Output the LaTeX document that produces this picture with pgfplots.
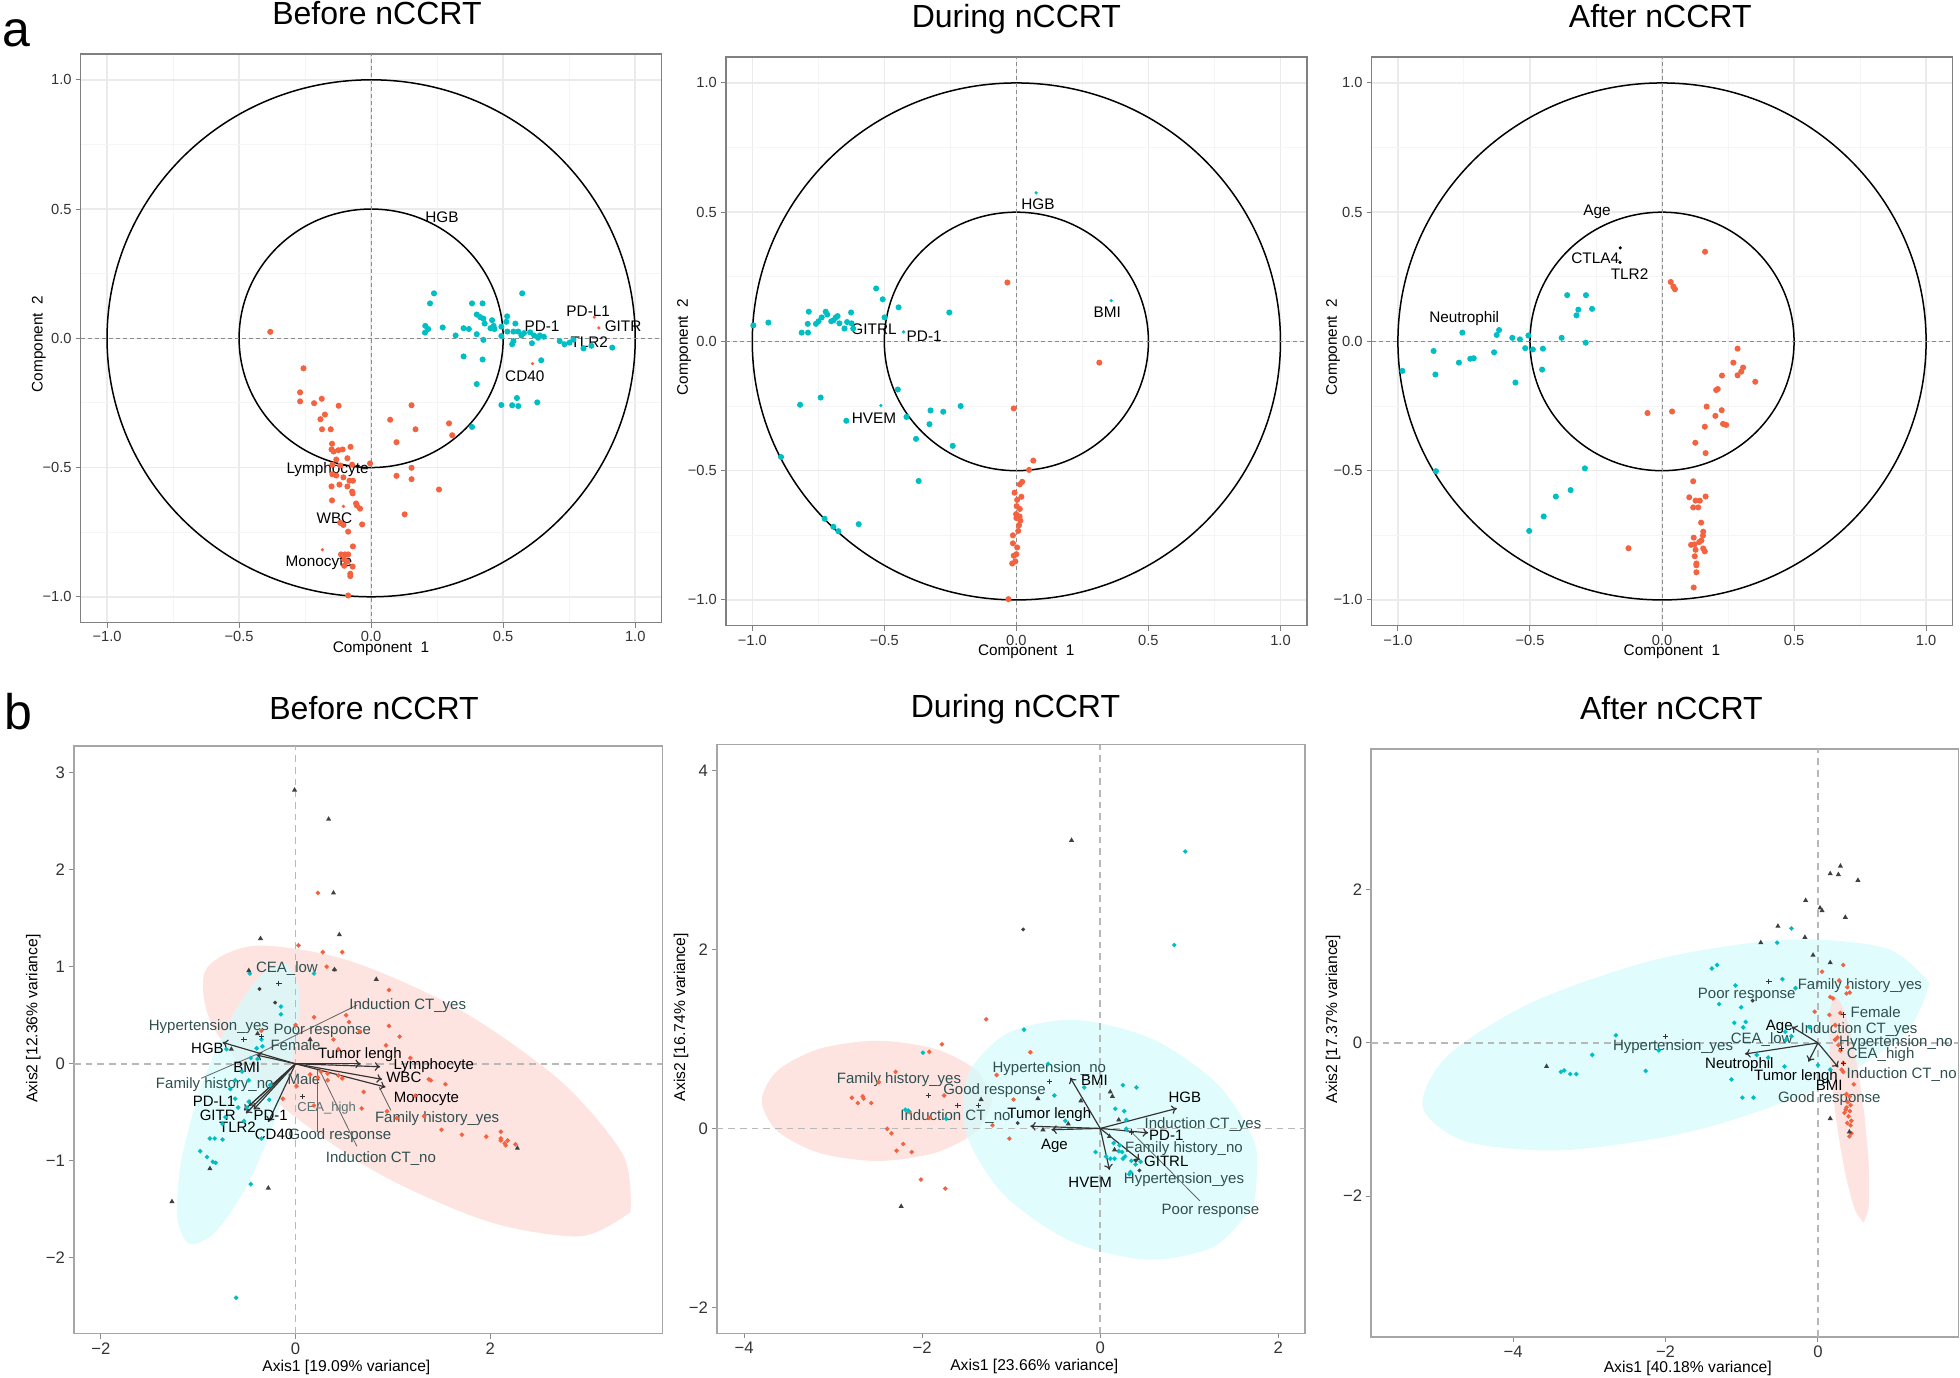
\documentclass[border=0pt]{standalone}
\usepackage{fontspec}
\setmainfont{Liberation Sans}
\usepackage{pgfplots}
\pgfplotsset{compat=1.18}
\usetikzlibrary{arrows.meta}
\definecolor{cy}{HTML}{00BFC4}
\definecolor{rd}{HTML}{F4623F}
\definecolor{rdf}{HTML}{FEDDDA}
\definecolor{cyf}{HTML}{D8FBFB}
\definecolor{slate}{HTML}{2F4F4F}
\definecolor{arr}{HTML}{333333}
\newcommand{\lfa}{\fontsize{4.6}{5}\selectfont}
\newcommand{\lfb}{\fontsize{4.7}{5.5}\selectfont}
\tikzset{
  tl/.style={font=\fontsize{4.6}{5}\selectfont, inner sep=0pt, text height=3.3pt, text depth=0pt, anchor=center},
  vl/.style={font=\fontsize{4.5}{5}\selectfont, text=black, inner sep=0pt, text height=3.2pt, text depth=0pt, anchor=center},
  cl/.style={vl, text=slate},
}
\pgfplotsset{
  base/.style={scale only axis, clip=true, axis on top=false, tick pos=left,
    tick align=outside, major tick length=1.5pt, minor tick length=0pt,
    tick label style={inner sep=1pt, text=black!80},
    every axis title/.style={anchor=base, inner sep=0pt, font=\fontsize{9.6}{11}\selectfont},
  },
  toprow/.style={base, width=174.3pt, height=170.6pt,
    xmin=-1.1, xmax=1.1, ymin=-1.1, ymax=1.1,
    xtick={-1,-0.5,0,0.5,1}, ytick={-1,-0.5,0,0.5,1},
    xticklabels={−1.0,−0.5,0.0,0.5,1.0}, yticklabels={−1.0,−0.5,0.0,0.5,1.0},
    minor xtick={-0.75,-0.25,0.25,0.75}, minor ytick={-0.75,-0.25,0.25,0.75},
    grid=both, major grid style={draw=black!8, line width=0.45pt},
    minor grid style={draw=black!4, line width=0.3pt},
    axis line style={draw=black!50, line width=0.4pt},
    tick style={draw=black!50, line width=0.3pt},
    tick label style={font=\fontsize{4.4}{5}\selectfont},
    xlabel={Component\ \ 1}, ylabel={Component\ \ 2},
    every axis x label/.style={at={(axis description cs:0.517,-0.0457)}, anchor=center, inner sep=0pt, font=\lfa},
    every axis y label/.style={at={(axis description cs:-0.072,0.49)}, anchor=center, inner sep=0pt, rotate=90, font=\lfa},
  },
  botrow/.style={base,
    axis line style={draw=black!35, line width=0.45pt},
    tick style={draw=black!45, line width=0.3pt},
    tick label style={font=\fontsize{5}{6}\selectfont},
  },
  zl/.style={draw=black!45, dash pattern=on 1.2pt off 0.9pt, line width=0.3pt},
  zb/.style={draw=black!28, dash pattern=on 2pt off 1.5pt, line width=0.55pt},
  pc/.style={only marks, mark=*, mark size=0.7pt, color=cy},
  pr/.style={only marks, mark=*, mark size=0.7pt, color=rd},
  bc/.style={only marks, mark=*, mark size=0.45pt, color=cy},
  br/.style={only marks, mark=*, mark size=0.45pt, color=rd},
  btri/.style={only marks, mark=triangle*, mark size=0.5pt, color=black!75},
  bcross/.style={only marks, mark=+, mark size=0.8pt, color=black!80, mark options={line width=0.3pt}},
  bdot/.style={only marks, mark=*, mark size=0.35pt, color=black!75},
  tiny/.style={only marks, mark=*, mark size=0.25pt},
  ar/.style={draw=arr, line width=0.35pt, -{To[length=1.6pt,width=2.6pt]}},
  cn/.style={draw=black!60, line width=0.25pt},
  efr/.style={draw=none, fill=rdf, fill opacity=0.8, smooth},
  efc/.style={draw=none, fill=cyf, fill opacity=0.8, smooth},
}
\begin{document}
\begin{tikzpicture}
\node[anchor=base west, inner sep=0pt, font=\fontsize{15}{15}\selectfont] at (0.5pt,399.3pt) {a};
\node[anchor=base west, inner sep=0pt, font=\fontsize{15}{15}\selectfont] at (1pt,194.55pt) {b};

% ================= a1 =================
\begin{axis}[toprow, at={(24.19pt,226.46pt)}, anchor=south west,
  title={Before nCCRT}, title style={at={(axis description cs:0.51,1.0513)}}]
\draw[black, line width=0.45pt] (axis cs:0,0) ellipse [x radius=1, y radius=1];
\draw[black, line width=0.45pt] (axis cs:0,0) ellipse [x radius=0.5, y radius=0.5];
\addplot[zl] coordinates {(-1.1,0) (1.1,0)};
\addplot[zl] coordinates {(0,-1.1) (0,1.1)};
\addplot[pc] coordinates {(0.238,0.174)(0.223,0.135)(0.205,0.048)(0.216,0.036)(0.204,0.022)(0.271,0.042)(0.320,0.011)(0.350,0.039)(0.370,0.036)(0.382,0.135)(0.422,0.135)(0.400,0.092)(0.413,0.082)(0.425,0.076)(0.430,0.057)(0.400,0.016)(0.425,-0.006)(0.458,0.070)(0.464,0.048)(0.452,0.039)(0.467,0.036)(0.493,0.045)(0.515,0.085)(0.512,0.064)(0.493,0.009)(0.516,0.026)(0.539,0.026)(0.546,0.057)(0.557,0.026)(0.572,0.174)(0.569,0.011)(0.579,0.020)(0.602,0.023)(0.617,0.011)(0.632,0.002)(0.639,0.011)(0.654,0.006)(0.539,-0.011)(0.534,-0.023)(0.609,-0.019)(0.714,-0.011)(0.732,-0.023)(0.751,-0.017)(0.766,-0.005)(0.804,-0.039)(0.834,-0.029)(0.913,-0.036)(0.350,-0.070)(0.422,-0.082)(0.644,-0.085)(0.400,-0.177)(0.493,-0.258)(0.534,-0.259)(0.557,-0.262)(0.552,-0.231)(0.629,-0.248)(0.382,-0.343)};
\addplot[pr] coordinates {(-0.382,0.025)(-0.256,-0.116)(-0.269,-0.209)(-0.269,-0.244)(-0.216,-0.251)(-0.187,-0.234)(-0.123,-0.261)(-0.175,-0.295)(-0.192,-0.313)(-0.186,-0.352)(-0.153,-0.352)(-0.148,-0.408)(-0.150,-0.430)(-0.142,-0.438)(-0.124,-0.433)(-0.108,-0.430)(-0.078,-0.420)(-0.132,-0.469)(-0.090,-0.464)(-0.147,-0.489)(-0.117,-0.492)(-0.072,-0.489)(-0.004,-0.484)(-0.147,-0.526)(-0.132,-0.531)(-0.082,-0.551)(-0.069,-0.551)(-0.105,-0.538)(-0.150,-0.573)(-0.120,-0.566)(-0.090,-0.573)(-0.072,-0.593)(-0.070,-0.600)(-0.148,-0.627)(-0.057,-0.639)(-0.054,-0.647)(-0.042,-0.659)(-0.117,-0.714)(-0.105,-0.722)(-0.034,-0.720)(-0.087,-0.748)(-0.069,-0.805)(-0.114,-0.836)(-0.099,-0.836)(-0.087,-0.836)(-0.102,-0.856)(-0.090,-0.864)(-0.070,-0.883)(-0.102,-0.880)(-0.079,-0.911)(-0.079,-0.920)(-0.087,-0.995)(0.072,-0.315)(0.096,-0.402)(0.153,-0.259)(0.168,-0.352)(0.295,-0.329)(0.307,-0.375)(0.153,-0.501)(0.096,-0.532)(0.153,-0.545)(0.257,-0.585)(0.127,-0.681)};
\addplot[tiny, color=rd] coordinates {(0.845,0.082)(0.862,0.040)(0.611,-0.098)(-0.105,-0.650)(-0.185,-0.818)};
\node[tl] at (axis cs:0.268,0.470) {HGB};
\node[tl] at (axis cs:0.647,0.047) {PD-1};
\node[tl] at (axis cs:0.822,0.106) {PD-L1};
\node[tl] at (axis cs:0.954,0.047) {GITR};
\node[tl] at (axis cs:0.826,-0.016) {TLR2};
\node[tl] at (axis cs:0.582,-0.147) {CD40};
\node[tl] at (axis cs:-0.165,-0.501) {Lymphocyte};
\node[tl] at (axis cs:-0.139,-0.694) {WBC};
\node[tl] at (axis cs:-0.198,-0.861) {Monocyte};
\end{axis}

% ================= a2 =================
\begin{axis}[toprow, at={(217.76pt,225.52pt)}, anchor=south west,
  title={During nCCRT}, title style={at={(axis description cs:0.5,1.0513)}}]
\draw[black, line width=0.45pt] (axis cs:0,0) ellipse [x radius=1, y radius=1];
\draw[black, line width=0.45pt] (axis cs:0,0) ellipse [x radius=0.5, y radius=0.5];
\addplot[zl] coordinates {(-1.1,0) (1.1,0)};
\addplot[zl] coordinates {(0,-1.1) (0,1.1)};
\addplot[pc] coordinates {(-0.996,0.062)(-0.939,0.073)(-0.813,0.034)(-0.789,0.034)(-0.790,0.068)(-0.786,0.115)(-0.759,0.068)(-0.749,0.078)(-0.737,0.093)(-0.722,0.115)(-0.716,0.104)(-0.701,0.078)(-0.692,0.082)(-0.684,0.093)(-0.677,0.098)(-0.670,0.070)(-0.651,0.050)(-0.641,0.075)(-0.626,0.112)(-0.624,0.070)(-0.618,0.050)(-0.531,0.205)(-0.506,0.163)(-0.499,0.093)(-0.446,0.132)(-0.254,0.112)(-0.449,-0.186)(-0.325,-0.267)(-0.277,-0.272)(-0.211,-0.250)(-0.416,-0.292)(-0.329,-0.320)(-0.380,-0.377)(-0.241,-0.404)(-0.741,-0.217)(-0.819,-0.245)(-0.644,-0.307)(-0.891,-0.447)(-0.370,-0.540)(-0.726,-0.686)(-0.693,-0.717)(-0.674,-0.734)(-0.597,-0.707)};
\addplot[pr] coordinates {(-0.034,0.228)(0.314,-0.082)(-0.010,-0.259)(0.064,-0.461)(0.048,-0.497)(0.022,-0.543)(0.013,-0.553)(-0.007,-0.585)(0.019,-0.601)(0.003,-0.613)(0.001,-0.637)(0.013,-0.648)(-0.001,-0.668)(0.012,-0.677)(0.000,-0.683)(0.015,-0.693)(0.010,-0.711)(0.007,-0.733)(-0.013,-0.750)(-0.013,-0.781)(0.003,-0.797)(-0.010,-0.829)(0.000,-0.823)(-0.004,-0.851)(-0.016,-0.859)(-0.030,-0.997)};
\addplot[tiny, color=cy] coordinates {(0.075,0.575)(0.359,0.158)(-0.513,-0.248)(-0.427,0.037)};
\node[tl] at (axis cs:0.082,0.531) {HGB};
\node[tl] at (axis cs:0.344,0.112) {BMI};
\node[tl] at (axis cs:-0.539,0.050) {GITRL};
\node[tl] at (axis cs:-0.349,0.020) {PD-1};
\node[tl] at (axis cs:-0.539,-0.295) {HVEM};
\end{axis}

% ================= a3 =================
\begin{axis}[toprow, at={(411.45pt,225.52pt)}, anchor=south west,
  title={After nCCRT}, title style={at={(axis description cs:0.497,1.0513)}},
  every axis y label/.style={at={(axis description cs:-0.066,0.49)}, anchor=center, inner sep=0pt, rotate=90, font=\lfa}]
\draw[black, line width=0.45pt] (axis cs:0,0) ellipse [x radius=1, y radius=1];
\draw[black, line width=0.45pt] (axis cs:0,0) ellipse [x radius=0.5, y radius=0.5];
\addplot[zl] coordinates {(-1.1,0) (1.1,0)};
\addplot[zl] coordinates {(0,-1.1) (0,1.1)};
\addplot[pc] coordinates {(-0.983,-0.114)(-0.865,-0.037)(-0.858,-0.128)(-0.769,-0.082)(-0.756,0.034)(-0.726,-0.067)(-0.713,-0.065)(-0.636,-0.042)(-0.626,0.025)(-0.617,0.044)(-0.567,0.014)(-0.538,0.008)(-0.518,-0.026)(-0.506,0.023)(-0.489,-0.031)(-0.451,-0.028)(-0.454,-0.109)(-0.555,-0.159)(-0.380,0.014)(-0.289,-0.005)(-0.359,0.179)(-0.288,0.179)(-0.317,0.123)(-0.324,0.101)(-0.265,0.126)(-0.856,-0.502)(-0.292,-0.491)(-0.346,-0.575)(-0.402,-0.600)(-0.448,-0.677)(-0.503,-0.733)};
\addplot[pr] coordinates {(0.163,0.347)(0.033,0.230)(0.043,0.212)(0.049,0.202)(0.286,-0.028)(0.270,-0.082)(0.307,-0.101)(0.300,-0.117)(0.286,-0.131)(0.353,-0.156)(0.227,-0.132)(0.211,-0.184)(0.205,-0.188)(0.169,-0.252)(0.226,-0.266)(0.202,-0.288)(0.231,-0.319)(0.243,-0.323)(0.162,-0.330)(-0.055,-0.277)(0.038,-0.271)(0.126,-0.392)(0.165,-0.432)(0.118,-0.541)(0.103,-0.603)(0.127,-0.616)(0.143,-0.616)(0.165,-0.600)(0.118,-0.642)(0.137,-0.642)(0.148,-0.701)(0.156,-0.736)(0.155,-0.751)(0.120,-0.759)(0.149,-0.770)(0.141,-0.776)(0.110,-0.787)(0.123,-0.785)(0.156,-0.801)(0.127,-0.806)(0.162,-0.812)(0.124,-0.831)(0.130,-0.859)(0.130,-0.866)(0.130,-0.893)(0.120,-0.952)(-0.127,-0.800)};
\addplot[tiny, color=black] coordinates {(-0.158,0.362)(-0.159,0.306)};
\node[tl] at (axis cs:-0.246,0.507) {Age};
\node[tl] at (axis cs:-0.253,0.322) {CTLA4};
\node[tl] at (axis cs:-0.123,0.261) {TLR2};
\node[tl] at (axis cs:-0.749,0.093) {Neutrophil};
\end{axis}

% ================= b1 =================
\begin{axis}[botrow, at={(22.16pt,13.16pt)}, anchor=south west, width=176.55pt, height=176.33pt,
  xmin=-2.278, xmax=3.77, ymin=-2.78, ymax=3.275,
  xtick={-2,0,2}, xticklabels={−2,0,2}, ytick={-2,-1,0,1,2,3}, yticklabels={−2,−1,0,1,2,3},
  xlabel={Axis1 [19.09\% variance]}, ylabel={Axis2 [12.36\% variance]},
  every axis x label/.style={at={(axis description cs:0.463,-0.0567)}, anchor=center, inner sep=0pt, font=\lfb},
  every axis y label/.style={at={(axis description cs:-0.0688,0.536)}, anchor=center, inner sep=0pt, rotate=90, font=\lfb},
  title={Before nCCRT}, title style={at={(axis description cs:0.51,1.0454)}}]
\addplot[efr] coordinates {(3.443,-1.526)(3.368,-0.942)(2.729,-0.182)(1.695,0.553)(0.545,1.064)(-0.412,1.216)(-0.923,0.966)(-0.848,0.382)(-0.209,-0.378)(0.825,-1.113)(1.975,-1.624)(2.932,-1.776)(3.443,-1.526)};
\addplot[efc] coordinates {(-0.093,1.035)(-0.355,0.914)(-0.678,0.439)(-0.979,-0.264)(-1.176,-1.007)(-1.215,-1.588)(-1.087,-1.855)(-0.825,-1.734)(-0.502,-1.259)(-0.201,-0.556)(-0.004,0.187)(0.035,0.768)(-0.093,1.035)};
\addplot[zb] coordinates {(-2.278,0) (3.77,0)};
\addplot[zb] coordinates {(0,-2.78) (0,3.275)};
\addplot[br] coordinates {(0.23,1.76)(0.03,1.22)(0.28,1.15)(0.48,1.15)(0.32,1.00)(0.40,0.97)(0.96,0.76)(0.19,0.48)(0.52,0.50)(0.55,0.43)(0.96,0.39)(0.66,0.33)(1.07,0.28)(0.00,0.40)(-0.35,0.34)(0.39,0.25)(0.93,0.19)(0.44,0.15)(1.18,0.06)(0.15,-0.11)(0.26,-0.08)(0.33,-0.10)(0.44,-0.12)(0.23,-0.14)(1.37,-0.16)(1.39,-0.17)(1.23,-0.33)(1.54,-0.21)(0.48,-0.15)(0.33,-0.17)(0.70,-0.29)(0.01,-0.23)(-0.13,-0.36)(0.19,-0.43)(0.68,-0.46)(0.94,-0.49)(1.04,-0.56)(1.32,-0.54)(1.50,-0.68)(1.71,-0.73)(1.96,-0.75)(2.11,-0.70)(2.11,-0.79)(2.15,-0.82)(2.18,-0.79)(2.16,-0.84)(2.26,-0.83)(2.11,-0.77)};
\addplot[bc] coordinates {(-0.47,0.93)(0.19,0.93)(-0.15,0.59)(-0.15,0.51)(-0.35,0.25)(-0.40,0.16)(-0.34,0.18)(-0.71,0.15)(-0.46,0.06)(-0.39,0.05)(-0.55,-0.08)(-0.48,-0.17)(-0.62,-0.17)(-0.67,-0.26)(-0.26,-0.22)(-0.62,-0.36)(-0.27,-0.37)(-0.59,-0.45)(-0.50,-0.45)(-0.72,-0.55)(-0.53,-0.59)(-0.75,-0.62)(-0.83,-0.77)(-0.75,-0.78)(-0.88,-0.77)(-0.35,-0.77)(-0.98,-0.90)(-0.91,-0.96)(-0.85,-1.01)(-0.82,-1.02)(-0.46,-1.24)(-0.61,-2.41)(-0.48,-0.39)};
\addplot[btri] coordinates {(-0.01,2.82)(0.34,2.52)(0.39,1.76)(-0.36,1.29)(0.45,1.33)(-0.48,0.96)(0.83,0.87)(0.40,0.97)(-1.27,-1.42)(-0.28,-1.28)(-0.88,-1.08)(2.28,-0.87)(-0.66,0.15)(-0.39,0.31)(0.15,0.25)};
\addplot[bcross] coordinates {(-0.17,0.83)(-0.53,0.25)(0.07,-0.34)(-0.35,0.28)};
\addplot[bdot] coordinates {(-0.37,0.77)(-0.21,0.63)};
\addplot[cn] coordinates {(-0.375,0.108) (0.635,0.606)};
\addplot[cn] coordinates {(-0.375,0.108) (-0.97,-0.15)};
\addplot[cn] coordinates {(0.224,-0.06) (0.224,-0.70)};
\addplot[cn] coordinates {(0.24,-0.05) (0.63,-0.85)};
\addplot[cn] coordinates {(0.86,-0.24) (0.98,-0.48)};
\addplot[ar] coordinates {(0,0) (-0.75,0.22)};
\addplot[ar] coordinates {(0,0) (-0.40,0.09)};
\addplot[ar] coordinates {(0,0) (0.67,0.0)};
\addplot[ar] coordinates {(0,0) (0.87,-0.03)};
\addplot[ar] coordinates {(0,0) (0.89,-0.16)};
\addplot[ar] coordinates {(0,0) (0.925,-0.24)};
\addplot[ar] coordinates {(0,0) (-0.48,-0.435)};
\addplot[ar] coordinates {(0,0) (-0.53,-0.48)};
\addplot[ar] coordinates {(0,0) (-0.51,-0.51)};
\addplot[ar] coordinates {(0,0) (-0.43,-0.47)};
\addplot[ar] coordinates {(0,0) (-0.28,-0.60)};
\node[cl] at (axis cs:-0.088,0.995) {CEA\_low};
\node[cl] at (axis cs:1.153,0.619) {Induction CT\_yes};
\node[cl] at (axis cs:-0.89,0.40) {Hypertension\_yes};
\node[cl] at (axis cs:0.275,0.355) {Poor response};
\node[cl] at (axis cs:0.0,0.193) {Female};
\node[cl] at (axis cs:-0.83,-0.20) {Family history\_no};
\node[cl] at (axis cs:0.087,-0.16) {Male};
\node[cl, font=\fontsize{3.9}{4.5}\selectfont, text=slate!80, text height=2.8pt] at (axis cs:0.32,-0.44) {CEA\_high};
\node[cl] at (axis cs:1.455,-0.545) {Family history\_yes};
\node[cl] at (axis cs:0.456,-0.727) {Good response};
\node[cl] at (axis cs:0.877,-0.963) {Induction CT\_no};
\node[vl] at (axis cs:-0.905,0.16) {HGB};
\node[vl] at (axis cs:-0.502,-0.03) {BMI};
\node[vl] at (axis cs:0.661,0.108) {Tumor lengh};
\node[vl] at (axis cs:1.42,0.0) {Lymphocyte};
\node[vl] at (axis cs:1.113,-0.14) {WBC};
\node[vl] at (axis cs:1.346,-0.34) {Monocyte};
\node[vl] at (axis cs:-0.837,-0.39) {PD-L1};
\node[vl] at (axis cs:-0.80,-0.53) {GITR};
\node[vl] at (axis cs:-0.255,-0.53) {PD-1};
\node[vl] at (axis cs:-0.597,-0.655) {TLR2};
\node[vl] at (axis cs:-0.221,-0.72) {CD40};
\end{axis}

% ================= b2 =================
\begin{axis}[botrow, at={(215.03pt,13.28pt)}, anchor=south west, width=176.4pt, height=176.58pt,
  xmin=-4.307, xmax=2.298, ymin=-2.289, ymax=4.289,
  xtick={-4,-2,0,2}, xticklabels={−4,−2,0,2}, ytick={-2,0,2,4}, yticklabels={−2,0,2,4},
  xlabel={Axis1 [23.66\% variance]}, ylabel={Axis2 [16.74\% variance]},
  every axis x label/.style={at={(axis description cs:0.540,-0.0567)}, anchor=center, inner sep=0pt, font=\lfb},
  every axis y label/.style={at={(axis description cs:-0.0608,0.537)}, anchor=center, inner sep=0pt, rotate=90, font=\lfb},
  title={During nCCRT}, title style={at={(axis description cs:0.508,1.0453)}}]
\addplot[efr] coordinates {(-1.210,0.308)(-1.384,0.644)(-1.858,0.890)(-2.506,0.980)(-3.154,0.890)(-3.628,0.644)(-3.802,0.308)(-3.628,-0.028)(-3.154,-0.274)(-2.506,-0.364)(-1.858,-0.274)(-1.384,-0.028)(-1.210,0.308)};
\addplot[efc] coordinates {(1.728,-0.850)(1.743,-0.188)(1.322,0.489)(0.580,1.002)(-0.286,1.213)(-1.041,1.064)(-1.486,0.596)(-1.501,-0.066)(-1.080,-0.743)(-0.338,-1.256)(0.528,-1.467)(1.283,-1.318)(1.728,-0.850)};
\addplot[zb] coordinates {(-4.307,0) (2.298,0)};
\addplot[zb] coordinates {(0,-2.289) (0,4.289)};
\addplot[br] coordinates {(-1.281,1.219)(-1.778,0.940)(-1.920,0.856)(-0.785,0.851)(-2.298,0.632)(-2.487,0.517)(-2.790,0.343)(-2.667,0.358)(-2.657,0.333)(-2.723,0.284)(-2.572,0.284)(-1.754,0.368)(-0.974,0.323)(-2.142,0.184)(-1.163,0.597)(-1.920,0.119)(-1.210,0.035)(-2.392,-0.005)(-2.345,-0.055)(-1.021,-0.114)(-2.213,-0.174)(-2.288,-0.249)(-2.118,-0.264)(-2.014,-0.572)(-1.740,-0.672)};
\addplot[bc] coordinates {(0.955,3.095)(0.832,2.050)(-0.856,1.104)(-1.991,0.846)(-0.586,0.721)(-0.515,0.368)(0.255,0.483)(0.407,0.458)(-0.180,0.458)(0.170,0.219)(0.270,0.194)(0.293,0.095)(-0.392,0.085)(-2.189,0.209)(-2.156,0.199)(-1.730,0.109)(0.293,-0.005)(-0.052,-0.264)(0.066,-0.313)(0.113,-0.338)(0.161,-0.338)(0.217,-0.189)(0.246,-0.264)(0.255,-0.338)(0.279,-0.313)(0.350,-0.363)(0.397,-0.403)(0.454,-0.373)(0.340,-0.488)(0.326,-0.512)(0.208,-0.254)(0.151,-0.164)};
\addplot[btri] coordinates {(-0.322,3.219)(-2.236,-0.871)(-1.338,0.323)(-0.700,0.333)(-0.217,0.308)(0.113,0.408)(0.137,0.358)(0.104,-0.090)(0.161,-0.239)(-0.359,0.050)(-0.643,-0.015)(0.208,0.095)};
\addplot[bdot] coordinates {(-0.865,2.224)(-0.927,0.060)(0.40,-0.36)(0.44,-0.47)};
\addplot[bcross] coordinates {(-1.929,0.368)(-1.598,0.259)(-1.366,0.259)(-0.572,0.522)(0.350,-0.04)};
\addplot[cn] coordinates {(0.35,-0.04) (1.12,-0.81)};
\addplot[ar] coordinates {(0,0) (-0.336,0.567)};
\addplot[ar] coordinates {(0,0) (0.861,0.224)};
\addplot[ar] coordinates {(0,0) (0.539,-0.050)};
\addplot[ar] coordinates {(0,0) (0.444,-0.353)};
\addplot[ar] coordinates {(0,0) (0.104,-0.463)};
\addplot[ar] coordinates {(0,0) (-0.785,0.025)};
\addplot[ar] coordinates {(0,0) (-0.548,-0.015)};
\node[cl] at (axis cs:-2.260,0.557) {Family history\_yes};
\node[cl] at (axis cs:-1.187,0.443) {Good response};
\node[cl] at (axis cs:-1.626,0.144) {Induction CT\_no};
\node[cl] at (axis cs:-0.572,0.682) {Hypertension\_no};
\node[cl] at (axis cs:1.154,0.060) {Induction CT\_yes};
\node[cl] at (axis cs:0.941,-0.204) {Family history\_no};
\node[cl] at (axis cs:0.941,-0.552) {Hypertension\_yes};
\node[cl] at (axis cs:1.239,-0.900) {Poor response};
\node[vl] at (axis cs:-0.066,0.542) {BMI};
\node[vl] at (axis cs:0.950,0.348) {HGB};
\node[vl] at (axis cs:0.742,-0.075) {PD-1};
\node[vl] at (axis cs:0.742,-0.363) {GITRL};
\node[vl] at (axis cs:-0.113,-0.602) {HVEM};
\node[vl] at (axis cs:-0.572,0.174) {Tumor lengh};
\node[vl] at (axis cs:-0.515,-0.174) {Age};
\end{axis}

% ================= b3 =================
\begin{axis}[botrow, at={(411.3pt,12.23pt)}, anchor=south west, width=176.3pt, height=176.32pt,
  xmin=-5.864, xmax=1.847, ymin=-3.837, ymax=3.837,
  xtick={-4,-2,0}, xticklabels={−4,−2,0}, ytick={-2,0,2}, yticklabels={−2,0,2},
  xlabel={Axis1 [40.18\% variance]}, ylabel={Axis2 [17.37\% variance]},
  every axis x label/.style={at={(axis description cs:0.539,-0.0545)}, anchor=center, inner sep=0pt, font=\lfb},
  every axis y label/.style={at={(axis description cs:-0.0646,0.5405)}, anchor=center, inner sep=0pt, rotate=90, font=\lfb},
  title={After nCCRT}, title style={at={(axis description cs:0.511,1.051)}}]
\addplot[efc] coordinates {(1.464,0.780)(0.903,1.233)(-0.397,1.349)(-2.091,1.096)(-3.723,0.543)(-4.855,-0.163)(-5.186,-0.832)(-4.625,-1.285)(-3.325,-1.401)(-1.631,-1.148)(0.001,-0.595)(1.133,0.111)(1.464,0.780)};
\addplot[efr] coordinates {(0.598,-2.346)(0.666,-2.135)(0.666,-1.585)(0.598,-0.844)(0.480,-0.111)(0.344,0.419)(0.226,0.602)(0.158,0.391)(0.158,-0.159)(0.226,-0.900)(0.344,-1.633)(0.480,-2.163)(0.598,-2.346)};
\addplot[zb] coordinates {(-5.864,0) (1.847,0)};
\addplot[zb] coordinates {(0,-3.837) (0,3.837)};
\addplot[bc] coordinates {(-0.348,1.494)(-0.535,1.308)(-1.392,0.971)(-1.323,1.017)(-0.466,0.831)(-0.295,0.715)(-1.082,0.750)(-1.296,0.506)(-1.007,0.465)(-1.098,0.262)(-0.948,0.273)(-0.980,0.203)(-0.428,0.145)(-0.348,0.087)(-0.418,0.041)(-2.651,0.099)(-2.961,-0.157)(-2.088,-0.099)(-0.803,-0.157)(-0.653,-0.192)(-0.439,-0.308)(0,-0.291)(-2.260,-0.366)(-1.135,-0.477)(-0.991,-0.715)(-0.846,-0.715)(0.161,-0.349)(-3.373,-0.378)(-3.330,-0.360)(-3.250,-0.407)(-3.170,-0.407)(-0.107,0.203)};
\addplot[br] coordinates {(0.332,1.017)(0.054,0.930)(0.278,0.814)(0.386,0.727)(0.418,0.657)(0.375,0.645)(0.161,0.599)(0.198,0.581)(-0.043,0.407)(0.150,0.366)(0.295,0.390)(0.225,0.233)(0.257,0.070)(0.225,0.041)(0.268,-0.029)(0.295,-0.099)(0.332,-0.262)(0.311,-0.349)(0.332,-0.378)(0.471,-0.541)(0.375,-0.669)(0.418,-0.698)(0.391,-0.773)(0.428,-0.814)(0.375,-0.843)(0.418,-0.890)(0.348,-0.913)(0.402,-0.959)(0.439,-1.017)(0.386,-1.047)(0.428,-1.076)(0.439,-1.180)(0.412,-1.221)(0.364,-0.872)};
\addplot[btri] coordinates {(0.295,2.308)(0.161,2.209)(0.268,2.198)(0.525,2.122)(-0.161,1.860)(0.027,1.762)(0.054,1.727)(0.359,1.640)(-0.525,1.523)(-0.750,1.308)(-0.171,1.378)(-0.064,1.145)(0.161,1.047)(-3.561,-0.308)(0.161,-0.988)(0.412,-1.163)};
\addplot[bcross] coordinates {(-0.643,0.802)(-1.997,0.087)(0.337,0.366)(0.305,-0.076)(0.337,-0.273)};
\addplot[bdot] coordinates {(-0.857,0.552)};
\addplot[ar] coordinates {(0,0) (-0.345,0.211)};
\addplot[ar] coordinates {(0,0) (-0.957,-0.145)};
\addplot[ar] coordinates {(0,0) (-0.126,-0.246)};
\addplot[ar] coordinates {(0,0) (0.267,-0.319)};
\node[cl] at (axis cs:0.550,0.765) {Family history\_yes};
\node[cl] at (axis cs:-0.935,0.655) {Poor response};
\node[cl] at (axis cs:0.757,0.407) {Female};
\node[cl] at (axis cs:0.540,0.190) {Induction CT\_yes};
\node[cl] at (axis cs:-0.738,0.059) {CEA\_low};
\node[cl] at (axis cs:-1.901,-0.029) {Hypertension\_yes};
\node[cl] at (axis cs:1.023,0.017) {Hypertension\_no};
\node[cl] at (axis cs:0.823,-0.128) {CEA\_high};
\node[cl] at (axis cs:1.098,-0.390) {Induction CT\_no};
\node[cl] at (axis cs:0.149,-0.703) {Good response};
\node[vl] at (axis cs:-0.507,0.233) {Age};
\node[vl] at (axis cs:-1.031,-0.267) {Neutrophil};
\node[vl] at (axis cs:-0.288,-0.420) {Tumor lengh};
\node[vl] at (axis cs:0.149,-0.550) {BMI};
\end{axis}
\pgfresetboundingbox
\path (0,0) rectangle (588pt,413.25pt);
\end{tikzpicture}
\end{document}
